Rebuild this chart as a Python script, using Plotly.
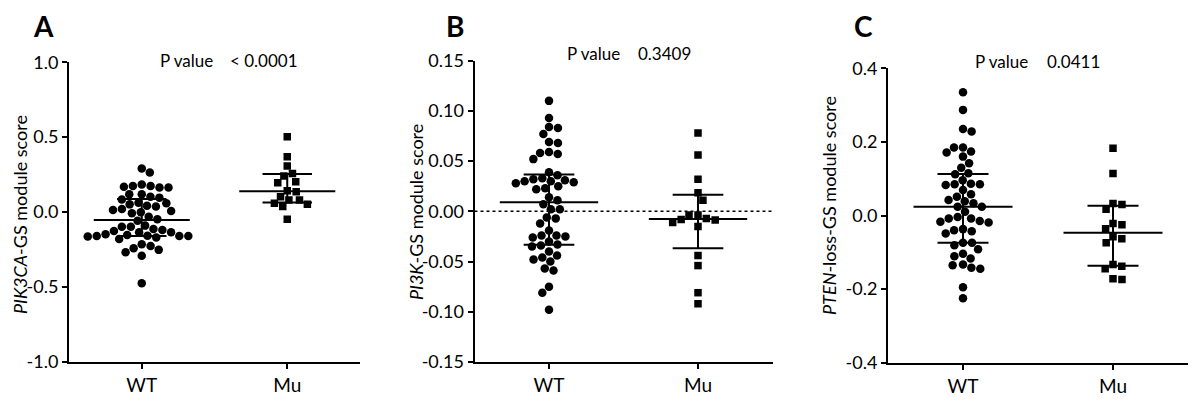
import numpy as np
import plotly.graph_objects as go

# ---------------- data ----------------
categories = ["WT", "Mu"]

a_wt = [0.291, 0.264, 0.173, 0.169, 0.164, 0.164, 0.173, 0.184, 0.118, 0.102,
        0.118, 0.096, 0.084, 0.058, 0.062, 0.051, 0.042, 0.036, 0.013, -0.002,
        0.020, 0.007, -0.009, -0.031, -0.048, -0.058, -0.091, -0.098, -0.120, -0.127,
        -0.113, -0.098, -0.136, -0.149, -0.160, -0.164, -0.158, -0.160, -0.180, -0.171,
        -0.160, -0.153, -0.136, -0.216, -0.242, -0.269, -0.293, -0.253, -0.227, -0.476]
a_mu = [0.502, 0.369, 0.307, 0.258, 0.240, 0.196, 0.202, 0.136, 0.142, 0.102,
        0.080, 0.051, 0.036, 0.058, 0.080, -0.049]

b_wt = [0.110, 0.093, 0.083, 0.084, 0.077, 0.069, 0.068, 0.058, 0.057, 0.059,
        0.052, 0.039, 0.036, 0.032, 0.030, 0.029, 0.025, 0.022, 0.023, 0.028,
        0.030, 0.031, 0.033, 0.014, 0.011, 0.007, 0.002, 0.002, -0.006, -0.007,
        -0.012, -0.019, -0.024, -0.025, -0.026, -0.024, -0.030, -0.035, -0.034, -0.033,
        -0.040, -0.044, -0.046, -0.048, -0.050, -0.057, -0.059, -0.075, -0.081, -0.098]
b_mu = [0.078, 0.056, 0.032, 0.0185, 0.011, -0.0036, -0.0036, -0.007, -0.0086, -0.008,
        -0.011, -0.015, -0.044, -0.054, -0.081, -0.092]

c_wt = [0.335, 0.287, 0.228, 0.235, 0.185, 0.171, 0.160, 0.174, 0.185, 0.142,
        0.130, 0.112, 0.115, 0.096, 0.085, 0.083, 0.069, 0.085, 0.086, 0.058,
        0.051, 0.042, 0.039, 0.033, 0.024, 0.024, 0.010, -0.008, -0.017, -0.004,
        -0.008, -0.019, -0.015, -0.037, -0.043, -0.049, -0.040, -0.092, -0.074, -0.074,
        -0.081, -0.111, -0.104, -0.133, -0.142, -0.145, -0.135, -0.117, -0.195, -0.225]
c_mu = [0.183, 0.114, 0.0326, 0.030, 0.017, -0.025, -0.022, -0.036, -0.058, -0.063,
        -0.074, -0.133, -0.145, -0.138, -0.174, -0.172]

panel_letters = ["A", "B", "C"]
p_values = ["< 0.0001", "0.3409", "0.0411"]
y_titles = ["<i>PIK3CA</i>-GS module score", "<i>PI3K</i>-GS module score",
            "<i>PTEN</i>-loss-GS module score"]
y_ticks = [[-1.0, -0.5, 0.0, 0.5, 1.0],
           [-0.15, -0.10, -0.05, 0.00, 0.05, 0.10, 0.15],
           [-0.4, -0.2, 0.0, 0.2, 0.4]]
y_decimals = [1, 2, 1]

# ---------------- layout geometry (target pixel positions on the page) ----------------
W, H = 1200, 406
OFF = 8  # default page body margin
FONT = "Lato, 'Open Sans', sans-serif"
x_dom_px = [(69, 360), (474.5, 772.5), (888, 1188)]
y_dom_px = [(62.3, 361.7), (60.7, 362.0), (68.3, 362.7)]   # top, bottom
y_ranges = [(-1.0, 1.0), (-0.15, 0.15), (-0.4, 0.4)]
x_range = (-0.5, 1.5)


def px2x(p):
    return (p - OFF) / W


def px2y(p):
    return 1 - (p - OFF) / H


def beeswarm(vals, py, px, d=9.0):
    vals = np.asarray(vals, dtype=float)
    order = np.argsort(-vals, kind="stable")
    placed = []
    xs = np.zeros(len(vals))
    side = 1
    for i in order:
        y = vals[i] * py
        cands = [0.0]
        for xj, yj in placed:
            dy = abs(y - yj)
            if dy < d:
                dx = np.sqrt(d * d - dy * dy)
                cands += [xj + dx, xj - dx]
        ok = [c for c in cands
              if all((c - xj) ** 2 + (y - yj) ** 2 >= d * d - 1e-6 for xj, yj in placed)]
        best = min(ok, key=lambda c: (round(abs(c), 3), -side * c))
        if best != 0:
            side = -np.sign(best)
        placed.append((best, y))
        xs[i] = best / px
    return xs


def quart(v):
    v = np.asarray(v)
    return (np.percentile(v, 25, method="weibull"),
            np.median(v),
            np.percentile(v, 75, method="weibull"))


fig = go.Figure()
groups = [(a_wt, a_mu), (b_wt, b_mu), (c_wt, c_mu)]

for k, (wt, mu) in enumerate(groups):
    xa = "x" if k == 0 else f"x{k+1}"
    ya = "y" if k == 0 else f"y{k+1}"
    x0p, x1p = x_dom_px[k]
    t, b = y_dom_px[k]
    px_x = (x1p - x0p) / (x_range[1] - x_range[0])
    px_y = (b - t) / (y_ranges[k][1] - y_ranges[k][0])
    for ci, (vals, sym, size) in enumerate([(wt, "circle", 8.5), (mu, "square", 7.5)]):
        off = beeswarm(vals, px_y, px_x)
        fig.add_trace(go.Scatter(
            x=ci + off, y=vals, mode="markers", xaxis=xa, yaxis=ya,
            marker=dict(symbol=sym, size=size, color="black", line=dict(width=0)),
            showlegend=False, hoverinfo="y"))
        q1, med, q3 = quart(vals)
        L, C = 0.33, 0.17
        fig.add_trace(go.Scatter(
            x=[ci - L, ci + L, None, ci - C, ci + C, None, ci - C, ci + C, None, ci, ci],
            y=[med, med, None, q3, q3, None, q1, q1, None, q1, q3],
            mode="lines", xaxis=xa, yaxis=ya, line=dict(color="black", width=2),
            showlegend=False, hoverinfo="skip"))

    axis_common = dict(showline=True, linecolor="black", linewidth=2, ticks="outside",
                       ticklen=5, tickwidth=2, tickcolor="black", showgrid=False,
                       zeroline=False, fixedrange=True, automargin=False)
    ticktext = [f"{v:.{y_decimals[k]}f}" for v in y_ticks[k]]
    fig.update_layout(**{
        ("xaxis" if k == 0 else f"xaxis{k+1}"): dict(
            domain=[px2x(x0p), px2x(x1p)], range=list(x_range), anchor=ya,
            tickvals=[0, 1], ticktext=categories,
            tickfont=dict(family=FONT, size=19, color="black"), **axis_common),
        ("yaxis" if k == 0 else f"yaxis{k+1}"): dict(
            domain=[px2y(b), px2y(t)], range=list(y_ranges[k]), anchor=xa,
            tickvals=y_ticks[k], ticktext=ticktext,
            tickfont=dict(family=FONT, size=18, color="black"), **axis_common),
    })

# dotted zero line in panel B
fig.add_shape(type="line", xref="x2 domain", yref="y2", x0=0, x1=1, y0=0, y1=0,
              line=dict(color="black", width=1.5, dash="dot"))

# panel letters
for (xp, yp), letter in zip([(43, 26), (455, 26), (863, 26)], panel_letters):
    fig.add_annotation(x=px2x(xp), y=px2y(yp), xref="paper", yref="paper",
                       text=f"<b>{letter}</b>", showarrow=False,
                       xanchor="center", yanchor="middle",
                       font=dict(family=FONT, size=28, color="black"))

# P value text
for (xl, xr, yp), pv in zip([(158, 228, 60), (565, 636, 53), (973, 1045, 61)], p_values):
    fig.add_annotation(x=px2x(xl), y=px2y(yp), xref="paper", yref="paper", text="P value",
                       showarrow=False, xanchor="left", yanchor="middle",
                       font=dict(family=FONT, size=17, color="black"))
    fig.add_annotation(x=px2x(xr), y=px2y(yp), xref="paper", yref="paper", text=pv,
                       showarrow=False, xanchor="left", yanchor="middle",
                       font=dict(family=FONT, size=17, color="black"))

# y axis titles
for (xp, yp), ttl in zip([(20, 215), (416, 212), (829, 206)], y_titles):
    fig.add_annotation(x=px2x(xp), y=px2y(yp), xref="paper", yref="paper", text=ttl,
                       showarrow=False, textangle=-90, xanchor="center", yanchor="middle",
                       borderpad=0, font=dict(family=FONT, size=18, color="black"))

fig.update_layout(width=W, height=H, margin=dict(l=0, r=0, t=0, b=0, autoexpand=False),
                  paper_bgcolor="white", plot_bgcolor="white", showlegend=False)

fig.write_html("out.html")
